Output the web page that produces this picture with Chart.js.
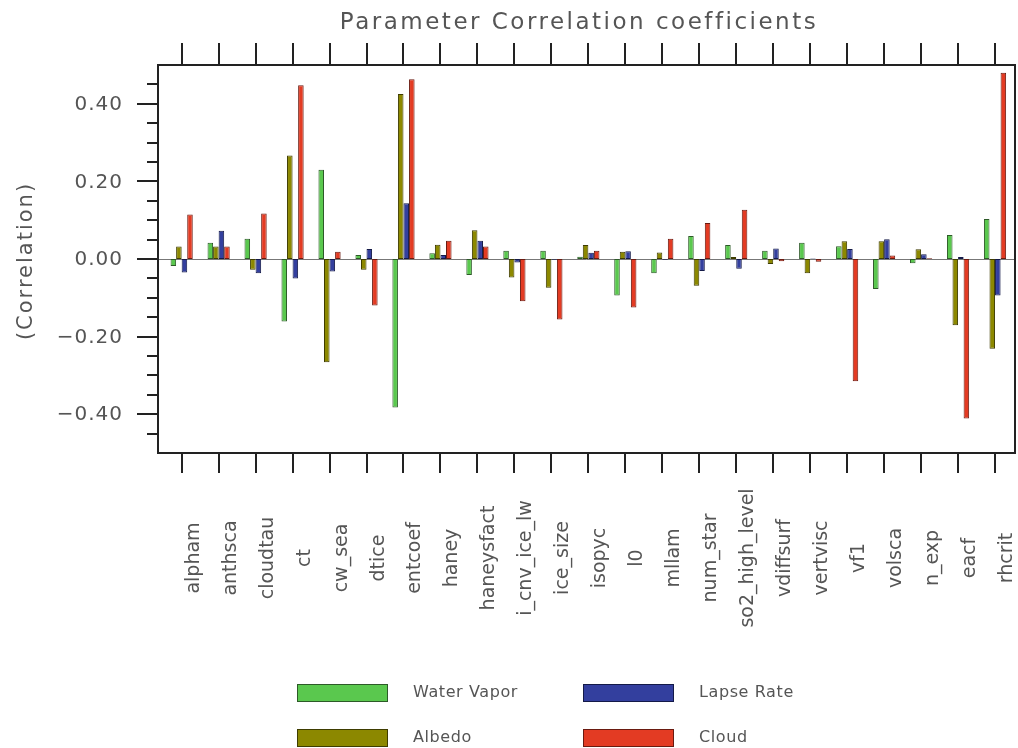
<!DOCTYPE html>
<html>
<head>
<meta charset="utf-8">
<script src="https://cdn.jsdelivr.net/npm/chart.js@4"></script>
<style>
	html, body { margin: 0; padding: 0; background: #fff; }
	canvas { display: block; }
</style>
</head>
<body>
<canvas id="corr" width="1018" height="748"></canvas>
<script>
var params = ['alpham', 'anthsca', 'cloudtau', 'ct', 'cw_sea', 'dtice', 'entcoef', 'haney', 'haneysfact',
	'i_cnv_ice_lw', 'ice_size', 'isopyc', 'l0', 'mllam', 'num_star', 'so2_high_level', 'vdiffsurf',
	'vertvisc', 'vf1', 'volsca', 'n_exp', 'eacf', 'rhcrit'];

var waterVapor = [-0.018, 0.042, 0.052, -0.161, 0.230, 0.010, -0.383, 0.015, -0.041, 0.021, 0.021, 0.006,
	-0.094, -0.037, 0.059, 0.036, 0.021, 0.042, 0.033, -0.077, -0.011, 0.062, 0.103];
var albedo = [0.032, 0.032, -0.028, 0.267, -0.266, -0.028, 0.425, 0.037, 0.074, -0.048, -0.074, 0.036,
	0.019, 0.017, -0.069, 0.005, -0.013, -0.037, 0.046, 0.046, 0.025, -0.171, -0.231];
var lapseRate = [-0.035, 0.073, -0.037, -0.050, -0.032, 0.026, 0.144, 0.010, 0.047, -0.009, -0.002, 0.016,
	0.020, -0.002, -0.031, -0.025, 0.027, 0.001, 0.026, 0.051, 0.012, 0.005, -0.094];
var cloud = [0.115, 0.032, 0.117, 0.448, 0.019, -0.120, 0.463, 0.047, 0.032, -0.109, -0.156, 0.021,
	-0.125, 0.052, 0.093, 0.127, -0.006, -0.007, -0.315, 0.009, 0.002, -0.411, 0.480];

var yMajorTicks = [-0.4, -0.2, 0.0, 0.2, 0.4];
var yMinorTicks = [-0.45, -0.35, -0.3, -0.25, -0.15, -0.1, -0.05, 0.05, 0.1, 0.15, 0.25, 0.3, 0.35, 0.45];

var FONT = '"DejaVu Sans", sans-serif';
var TEXT_COLOR = '#555';

function toPoints(values) {
	return values.map((y, x) => ({x, y}));
}

function makeDataset(label, values, fill, edge) {
	return {
		label: label,
		data: toPoints(values),
		backgroundColor: fill,
		borderColor: edge,
		borderWidth: 1,
		borderSkipped: false,
		categoryPercentage: 0.6,
		barPercentage: 1.0,
	};
}

// frame, outward ticks, labels and the zero line
const plotFrame = {
	id: 'plotFrame',
	beforeDatasetsDraw(chart) {
		const {ctx, chartArea: {left, right}, scales: {y}} = chart;
		var y0 = Math.round(y.getPixelForValue(0)) + 0.5;
		ctx.save();
		ctx.strokeStyle = '#777';
		ctx.lineWidth = 1;
		ctx.beginPath();
		ctx.moveTo(left, y0);
		ctx.lineTo(right, y0);
		ctx.stroke();
		ctx.restore();
	},
	afterDraw(chart) {
		const {ctx, chartArea: {left, top, right, bottom}, scales: {x, y}} = chart;
		ctx.save();
		ctx.strokeStyle = '#222';
		ctx.lineWidth = 2;
		ctx.strokeRect(left, top, right - left, bottom - top);

		// category ticks, top and bottom
		ctx.beginPath();
		params.forEach((name, i) => {
			var px = Math.round(x.getPixelForValue(i));
			ctx.moveTo(px, top - 22);
			ctx.lineTo(px, top);
			ctx.moveTo(px, bottom);
			ctx.lineTo(px, bottom + 20);
		});
		// value ticks on the left
		yMajorTicks.forEach(v => {
			var py = Math.round(y.getPixelForValue(v));
			ctx.moveTo(left - 21, py);
			ctx.lineTo(left, py);
		});
		yMinorTicks.forEach(v => {
			var py = Math.round(y.getPixelForValue(v));
			ctx.moveTo(left - 11, py);
			ctx.lineTo(left, py);
		});
		ctx.stroke();

		ctx.fillStyle = TEXT_COLOR;

		// y tick labels
		ctx.font = '20px ' + FONT;
		ctx.letterSpacing = '1px';
		ctx.textAlign = 'right';
		ctx.textBaseline = 'middle';
		yMajorTicks.forEach(v => {
			var txt = v.toFixed(2).replace('-', '\u2212');
			ctx.fillText(txt, left - 35, y.getPixelForValue(v) + 1);
		});

		// category labels, rotated
		ctx.font = '19px ' + FONT;
		ctx.letterSpacing = '0px';
		ctx.textAlign = 'center';
		ctx.textBaseline = 'alphabetic';
		params.forEach((name, i) => {
			ctx.save();
			ctx.translate(x.getPixelForValue(i) + 17, 558);
			ctx.rotate(-Math.PI / 2);
			ctx.fillText(name, 0, 0);
			ctx.restore();
		});

		// axis title
		ctx.font = '21px ' + FONT;
		ctx.letterSpacing = '2px';
		ctx.textBaseline = 'middle';
		ctx.save();
		ctx.translate(27, 261);
		ctx.rotate(-Math.PI / 2);
		ctx.fillText('(Correlation)', 0, 0);
		ctx.restore();

		// chart title
		ctx.font = '23px ' + FONT;
		ctx.letterSpacing = '2.5px';
		ctx.fillText('Parameter Correlation coefficients', 579, 23);
		ctx.restore();
	}
};

// two-column legend under the plot
const boxLegend = {
	id: 'boxLegend',
	afterDraw(chart) {
		const {ctx} = chart;
		var colX = [297, 583];
		var rowY = [684, 729];
		ctx.save();
		ctx.font = '16px ' + FONT;
		ctx.letterSpacing = '0.6px';
		ctx.textAlign = 'left';
		ctx.textBaseline = 'middle';
		chart.data.datasets.forEach((ds, i) => {
			var bx = colX[Math.floor(i / 2)];
			var by = rowY[i % 2];
			ctx.fillStyle = ds.backgroundColor;
			ctx.fillRect(bx, by, 90, 17);
			ctx.strokeStyle = ds.borderColor;
			ctx.lineWidth = 1;
			ctx.strokeRect(bx + 0.5, by + 0.5, 90, 17);
			ctx.fillStyle = TEXT_COLOR;
			ctx.fillText(ds.label, bx + 116, by + 9);
		});
		ctx.restore();
	}
};

var chart = new Chart(document.getElementById('corr'), {
	type: 'bar',
	data: {
		datasets: [
			makeDataset('Water Vapor', waterVapor, '#5ac84e', '#2d5a28'),
			makeDataset('Albedo', albedo, '#8c8800', '#3e3c00'),
			makeDataset('Lapse Rate', lapseRate, '#333f9e', '#141a48'),
			makeDataset('Cloud', cloud, '#e33b23', '#6a1a10'),
		]
	},
	options: {
		responsive: false,
		animation: false,
		layout: {
			padding: {left: 158, top: 65, right: 3, bottom: 295}
		},
		scales: {
			x: {
				type: 'linear',
				display: false,
				offset: false,
				min: -0.64,
				max: 22.54,
				ticks: {
					stepSize: 1,
					includeBounds: false,
				},
			},
			y: {
				display: false,
				min: -0.5,
				max: 0.5,
			},
		},
		plugins: {
			legend: {display: false},
			tooltip: {enabled: false},
		},
	},
	plugins: [plotFrame, boxLegend],
});
</script>
</body>
</html>
